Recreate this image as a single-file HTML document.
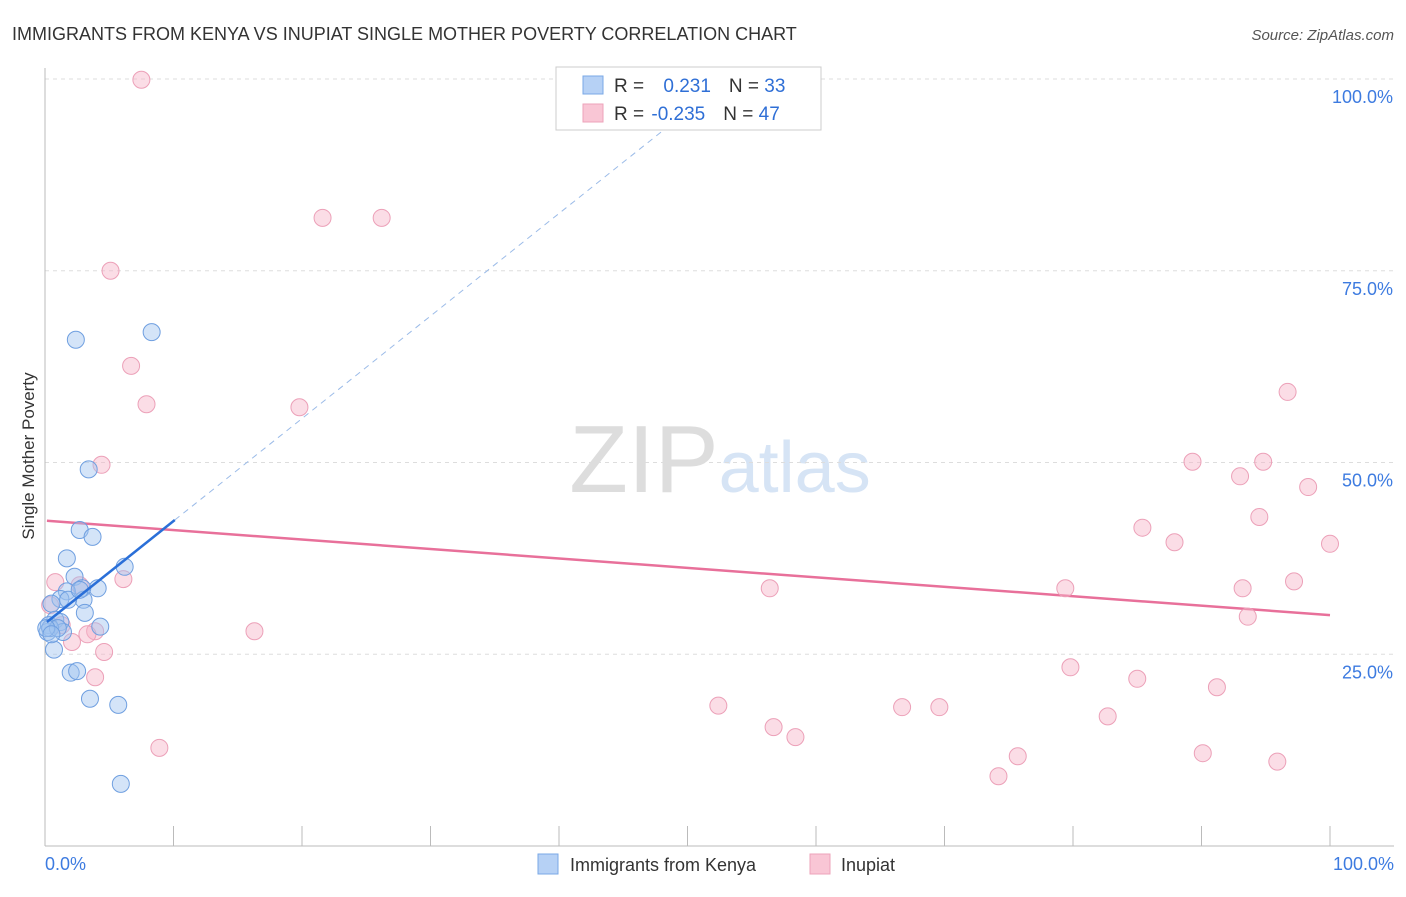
<!DOCTYPE html>
<html><head><meta charset="utf-8"><style>
body{margin:0;background:#fff;font-family:"Liberation Sans",sans-serif;}
svg text{font-family:"Liberation Sans",sans-serif;}
</style></head><body>
<svg id="chart" width="1406" height="892">
<text x="12" y="40" font-size="18" fill="#333">IMMIGRANTS FROM KENYA VS INUPIAT SINGLE MOTHER POVERTY CORRELATION CHART</text>
<text x="1394" y="40" font-size="15" fill="#555" font-style="italic" text-anchor="end">Source: ZipAtlas.com</text>
<text x="0" y="0" transform="translate(34,456) rotate(-90)" font-size="17" fill="#333" text-anchor="middle">Single Mother Poverty</text>
<text x="720" y="492" font-size="96" fill="#e6e6e6" text-anchor="middle" font-family="Liberation Serif"><tspan fill="#ddd">ZIP</tspan><tspan fill="#d6e4f5" font-family="Liberation Sans" font-size="72">atlas</tspan></text>
<g id="grid"></g><g id="axes"></g><g id="lines"></g><g id="pts"></g>
<g>
<rect x="556" y="67" width="265" height="63" fill="#fff" stroke="#ccc"/>
<rect x="583" y="76" width="20" height="18" fill="#b6d1f5" stroke="#7aa8e6"/>
<rect x="583" y="104" width="20" height="18" fill="#f9c6d5" stroke="#eda3ba"/>
<text x="614" y="92" font-size="19" fill="#333">R = <tspan fill="#2f6fd6" dx="14">0.231</tspan><tspan fill="#333" dx="18">N = </tspan><tspan fill="#2f6fd6">33</tspan></text>
<text x="614" y="120" font-size="19" fill="#333">R = <tspan fill="#2f6fd6" dx="2">-0.235</tspan><tspan fill="#333" dx="18">N = </tspan><tspan fill="#2f6fd6">47</tspan></text>
</g>
<g>
<rect x="538" y="854" width="20" height="20" fill="#b6d1f5" stroke="#7aa8e6"/>
<text x="570" y="871" font-size="18" fill="#333">Immigrants from Kenya</text>
<rect x="810" y="854" width="20" height="20" fill="#f9c6d5" stroke="#eda3ba"/>
<text x="841" y="871" font-size="18" fill="#333">Inupiat</text>
</g>
</svg>
<script>
const yTicks=[25,50,75,100];
const xTickLabels=["0.0%","100.0%"];
const blueX=[2.4,8.3,3.4,2.7,3.7,1.7,6.2,2.3,4.1,2.9,1.7,1.2,3.0,0.5,3.1,0.8,0.3,1.2,4.3,0.2,1.4,0.7,2.0,2.5,3.5,5.7,5.9,0.4,1.0,0.1,1.8,2.7,0.5];
const blueY=[66.0,67.0,49.1,41.2,40.3,37.5,36.4,35.1,33.6,33.6,33.2,32.2,32.1,31.6,30.4,29.5,28.8,29.2,28.6,27.9,27.9,25.6,22.6,22.8,19.2,18.4,8.1,28.4,28.4,28.4,32.1,33.4,27.6];
const pinkX=[7.5,21.6,26.2,5.1,6.7,7.9,19.8,4.4,0.8,2.7,6.1,0.4,1.3,3.9,3.3,2.1,4.6,3.9,8.9,16.3,52.4,56.7,58.4,66.7,69.6,74.2,75.7,79.8,79.4,82.7,85.0,85.4,87.9,89.3,90.1,91.2,93.0,93.2,93.6,94.5,94.8,95.9,96.7,97.2,98.3,100,56.4];
const pinkY=[99.9,81.9,81.9,75.0,62.6,57.6,57.2,49.7,34.4,34.0,34.8,31.4,28.8,28.0,27.6,26.6,25.3,22.0,12.8,28.0,18.3,15.5,14.2,18.1,18.1,9.1,11.7,23.3,33.6,16.9,21.8,41.5,39.6,50.1,12.1,20.7,48.2,33.6,29.9,42.9,50.1,11.0,59.2,34.5,46.8,39.4,33.6];
const blueTrend=[0.15,29.2,10.1,42.5];
const pinkTrend=[0.15,42.4,100,30.1];
const X=v=>45+v*12.85, Y=v=>846-v*7.67;
const NS="http://www.w3.org/2000/svg";
function mk(tag,parent,attrs){const e=document.createElementNS(NS,tag);for(const k in attrs)e.setAttribute(k,attrs[k]);document.getElementById(parent).appendChild(e);return e;}
yTicks.forEach(t=>{
 const l=mk("line","grid",{x1:45,x2:1394,y1:Y(t),y2:Y(t),stroke:"#ddd","stroke-dasharray":"4,4"});
 
 
 const tx=mk("text","grid",{x:1393,y:Y(t)+24,"font-size":18,fill:"#3d7be0","text-anchor":"end"});
 tx.textContent=t.toFixed(1)+"%";
 
 
});
let a=mk("line","axes",{x1:45,x2:45,y1:68,y2:846,stroke:"#bbb"});


a=mk("line","axes",{x1:45,x2:1394,y1:846,y2:846,stroke:"#bbb"});


for(let i=1;i<=10;i++){const t=mk("line","axes",{x1:X(i*10),x2:X(i*10),y1:826,y2:846,stroke:"#bbb"});
 
 }
[[0,"start"],[100,"end"]].forEach((p,i)=>{const t=mk("text","axes",{x:i?1394:45,y:870,"font-size":18,fill:"#3d7be0","text-anchor":p[1]});
 t.textContent=xTickLabels[i];
 
 });
const slope=(blueTrend[3]-blueTrend[1])/(blueTrend[2]-blueTrend[0]);
const xEnd=blueTrend[0]+(100-blueTrend[1])/slope;
let ln=mk("line","lines",{x1:X(blueTrend[2]),y1:Y(blueTrend[3]),x2:X(xEnd),y2:Y(100),stroke:"#9bbbe8","stroke-dasharray":"6,5","stroke-width":1});


ln=mk("line","lines",{x1:X(pinkTrend[0]),y1:Y(pinkTrend[1]),x2:X(pinkTrend[2]),y2:Y(pinkTrend[3]),stroke:"#e8709a","stroke-width":2.5});


pinkX.forEach((x,i)=>{const c=mk("circle","pts",{cx:X(x),cy:Y(pinkY[i]),r:8.5,fill:"rgba(246,180,200,0.45)",stroke:"#eca0b8"});
 
 });
blueX.forEach((x,i)=>{const c=mk("circle","pts",{cx:X(x),cy:Y(blueY[i]),r:8.5,fill:"rgba(160,195,240,0.45)",stroke:"#6f9fe0"});
 
 });
ln=mk("line","pts",{x1:X(blueTrend[0]),y1:Y(blueTrend[1]),x2:X(blueTrend[2]),y2:Y(blueTrend[3]),stroke:"#2a6fd8","stroke-width":2.5});


</script>
</body></html>
